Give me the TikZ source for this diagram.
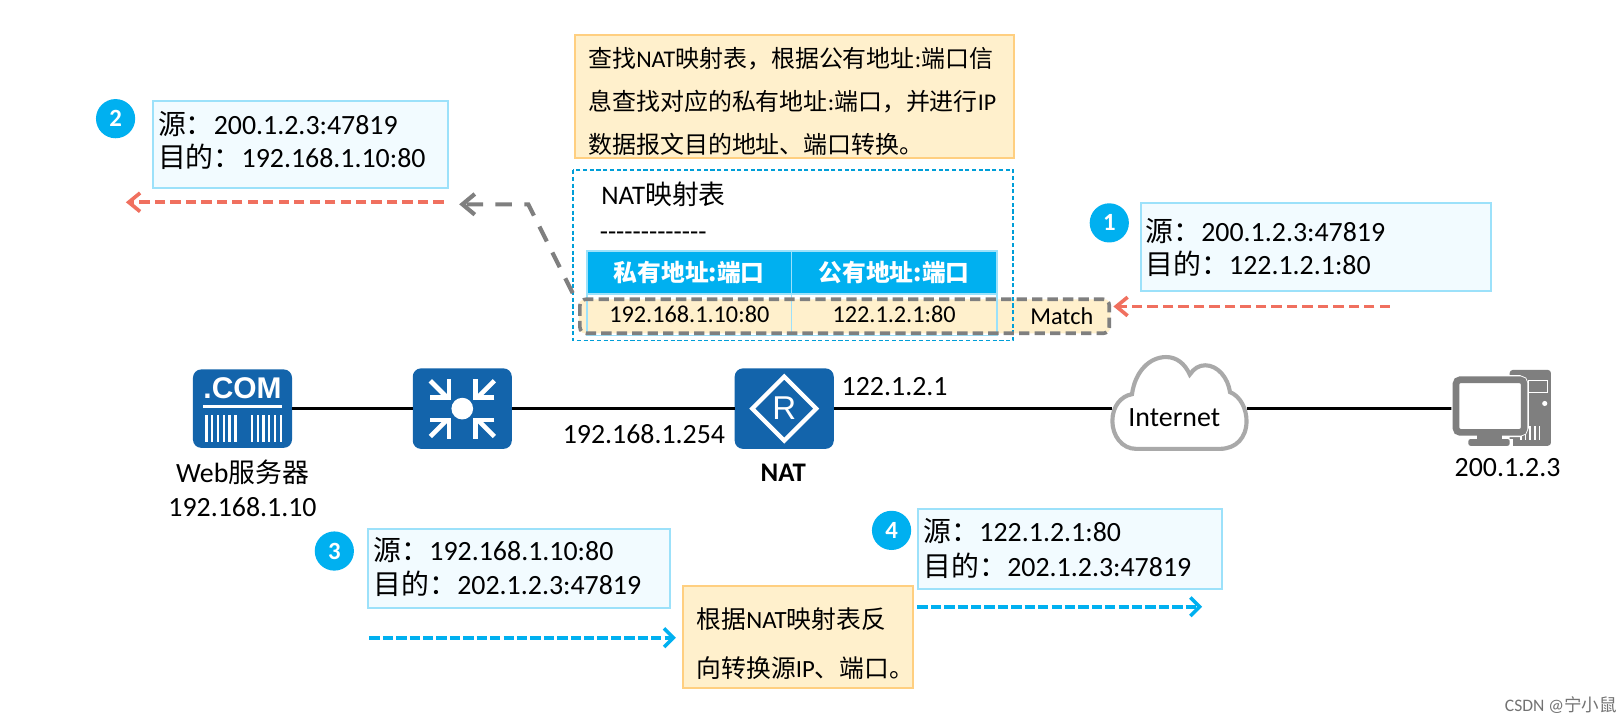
\documentclass[tikz,border=0pt]{standalone}
\usepackage{fontspec}
\setmainfont{Carlito}
\newfontfamily\cjk{Noto Sans CJK SC}
\newfontfamily\helv{Liberation Sans}
\usetikzlibrary{arrows.meta,calc}
\definecolor{infofill}{HTML}{F2FBFF}
\definecolor{infoline}{HTML}{9CE1FA}
\definecolor{notefill}{HTML}{FFF0CC}
\definecolor{noteline}{HTML}{FFCF80}
\definecolor{cyanb}{HTML}{00B0F0}
\definecolor{iconblue}{HTML}{1364AB}
\definecolor{redarrow}{HTML}{F0705F}
\definecolor{grayline}{HTML}{7F7F7F}
\definecolor{cloudline}{HTML}{A9A9A9}
\newcommand{\pxfont}[1]{\fontsize{#1}{#1}\selectfont}
\newcommand{\addr}[2]{{\cjk #1}#2}
\tikzset{
  x=1pt,y=-1pt,
  infobox/.style={draw=infoline,fill=infofill,line width=2pt,inner sep=0pt},
  notebox/.style={draw=noteline,fill=notefill,line width=2pt,inner sep=0pt},
  badge/.style={circle,fill=cyanb,text=white,minimum size=38pt,inner sep=0pt,font=\pxfont{24}\bfseries},
  txt/.style={inner sep=0pt,anchor=west,text=black,font=\pxfont{27}},
  ctr/.style={inner sep=0pt,anchor=center,text=black,font=\pxfont{27}},
  notetxt/.style={inner sep=0pt,anchor=west,text=black,font=\pxfont{23.2}},
  botnotetxt/.style={inner sep=0pt,anchor=west,text=black,font=\pxfont{24}},
  icon/.style={fill=iconblue,rounded corners=8pt,inner sep=0pt},
  flowred/.style={draw=redarrow,line width=3.5pt,dash pattern=on 10pt off 5pt,-{Straight Barb[length=11pt,width=18pt,line width=3.5pt]}},
  flowblue/.style={draw=cyanb,line width=3.5pt,dash pattern=on 10pt off 3pt,-{Straight Barb[length=9pt,width=18pt,line width=3.5pt]}},
  flowgray/.style={draw=grayline,line width=4pt,dash pattern=on 16pt off 12pt,-{Straight Barb[length=12pt,width=20pt,line width=4pt]}},
  link/.style={draw=black,line width=3pt},
  cellhead/.style={fill=cyanb,draw=infoline,line width=1.5pt,inner sep=0pt,minimum height=42pt,text=white,font=\pxfont{23}\cjk\bfseries},
  cellrow/.style={draw=infoline,line width=1.5pt,inner sep=0pt,minimum height=40pt,text=black,font=\pxfont{23.5}},
}
\begin{document}
\begin{tikzpicture}
\useasboundingbox (0,0) rectangle (1568,698.7);
\fill[white] (0,0) rectangle (1568,698.7);

% icons on the network line
\node[icon,minimum width=96pt,minimum height=76pt] (server) at (235,396) {};
\node[icon,minimum width=96pt,minimum height=78pt] (switch) at (448,396) {};
\node[icon,minimum width=96pt,minimum height=78pt] (router) at (760,396) {};
\coordinate (cloudw) at (1078,396);
\coordinate (cloude) at (1208,396);
\coordinate (pcw) at (1408,396);
\draw[link] (server) -- (switch);
\draw[link] (switch) -- (router);
\draw[link] (router) -- (cloudw);
\draw[link] (cloude) -- (pcw);

% server glyph
\node[inner sep=0pt,text=white,font=\helv\pxfont{29}\bfseries] (comlabel) at (235,376) {.COM};
\fill[white] (197,392) rectangle (273,395);
\foreach \i in {0,...,5}{
  \fill[white] ({199+\i*5.6},402) rectangle ++(2.2,26);
  \fill[white] ({243+\i*5.6},402) rectangle ++(2.2,26);
}
% switch glyph
\fill[white] (448,396) circle (10.5);
\foreach \sx/\sy in {-1/-1,1/-1,-1/1,1/1}{
  \draw[white,line width=4.5pt] ({448+\sx*31},{396+\sy*27}) -- ({448+\sx*16},{396+\sy*12});
  \draw[white,line width=4.5pt,miter limit=10] ({448+\sx*31},{396+\sy*11}) -- ({448+\sx*13},{396+\sy*11}) -- ({448+\sx*13},{396+\sy*29});
}
% router glyph
\draw[white,line width=4pt] (760,365) -- (791,396) -- (760,427) -- (729,396) -- cycle;
\node[inner sep=0pt,text=white,font=\helv\pxfont{32}] (rlabel) at (760,396) {R};

% cloud
\draw[cloudline,fill=white,line width=4pt]
 (1101,435) .. controls (1087,435) and (1078,422) .. (1078,408)
 .. controls (1078,394) and (1086,384) .. (1097,382)
 .. controls (1100,360) and (1114,346) .. (1130,346)
 .. controls (1140,346) and (1148,352) .. (1153,363)
 .. controls (1157,357) and (1162,354) .. (1168,354)
 .. controls (1180,354) and (1190,366) .. (1192,380)
 .. controls (1202,384) and (1208,396) .. (1208,408)
 .. controls (1208,424) and (1198,435) .. (1182,435) -- cycle;
\node[ctr] (inet) at (1138,405) {Internet};

% PC
\fill[grayline,rounded corners=3pt] (1463,358.5) rectangle (1503,432);
\draw[white,line width=1.2pt] (1481,369) rectangle (1500,380);
\fill[white] (1497,391) circle (2.5);
\foreach \i in {0,...,4}{\fill[white] ({1473+\i*4.5},413) rectangle ++(1.6,13);}
\draw[white,line width=9pt,rounded corners=5pt] (1411,368) rectangle (1477,419);
\draw[grayline,fill=white,line width=6.5pt,rounded corners=4pt] (1411,368) rectangle (1477,419);
\fill[white] (1420,425) rectangle (1466,433.5);
\fill[grayline] (1431,422) rectangle (1456,426);
\fill[grayline,rounded corners=2pt] (1423,425.5) rectangle (1463,432);

% network labels
\node[ctr] (webname) at (235,458) {Web{\cjk\pxfont{26}服务器}};
\node[ctr] (webip) at (235,491) {192.168.1.10};
\node[ctr] (lanip) at (624,421) {192.168.1.254};
\node[ctr] (wanip) at (867,375) {122.1.2.1};
\node[ctr,font=\pxfont{26}\bfseries] (natname) at (759,458) {NAT};
\node[ctr] (pcip) at (1461,453) {200.1.2.3};

% top note
\node[notebox,anchor=north west,minimum width=426pt,minimum height=119pt] (topnote) at (556,33) {};
\node[notetxt] (n1) at (570,57) {{\cjk 查找}NAT{\cjk 映射表，根据公有地址}:{\cjk 端口信}};
\node[notetxt] (n2) at (570,98) {{\cjk 息查找对应的私有地址}:{\cjk 端口，并进行}IP};
\node[notetxt] (n3) at (570,140) {\cjk 数据报文目的地址、端口转换。};

% match highlight
\fill[notefill,rounded corners=6pt] (561,290) rectangle (1076,323);
% table
\draw[cyanb!90!black,line width=1.8pt,dash pattern=on 4pt off 2.5pt] (555,165) rectangle (982,330);
\node[ctr,font=\pxfont{26}] (tbltitle) at (643,188) {NAT{\cjk 映射表}};
\node[ctr,font=\pxfont{26}] (tbldash) at (633,229) {-{}-{}-{}-{}-{}-{}-{}-{}-{}-{}-{}-{}-};
\node[cellhead,minimum width=198pt] (h1) at (668,264) {私有地址:端口};
\node[cellhead,minimum width=199pt] (h2) at (866.5,264) {公有地址:端口};
\node[cellrow,minimum width=198pt] (c1) at (668,305) {192.168.1.10:80};
\node[cellrow,minimum width=199pt] (c2) at (866.5,305) {122.1.2.1:80};
\node[ctr,font=\pxfont{23.5}] (matchtxt) at (1029,306) {Match};
\draw[grayline,line width=3.5pt,dash pattern=on 10pt off 5pt,rounded corners=6pt] (562,290) rectangle (1075,323);

% flow arrows
\coordinate (g0) at (555,284);
\coordinate (g1) at (512,198);
\coordinate (g2) at (445,198);
\draw[flowgray] (g0) -- (g1) -- (g2);
\coordinate (r1a) at (1347,297); \coordinate (r1b) at (1079,297);
\draw[flowred] (r1a) -- (r1b);
\coordinate (r2a) at (430,196); \coordinate (r2b) at (122,196);
\draw[flowred] (r2a) -- (r2b);
\coordinate (b3a) at (358,618); \coordinate (b3b) at (655,618);
\draw[flowblue] (b3a) -- (b3b);
\coordinate (b4a) at (889,588); \coordinate (b4b) at (1165,588);
\draw[flowblue] (b4a) -- (b4b);

% info boxes
\node[infobox,anchor=north west,minimum width=339pt,minimum height=85pt] (box1) at (1105,196) {};
\node[txt] (b1a) at (1110,224) {\addr{源：}{200.1.2.3:47819}};
\node[txt] (b1b) at (1110,256) {\addr{目的：}{122.1.2.1:80}};
\node[badge] (c1badge) at (1075,216) {1};

\node[infobox,anchor=north west,minimum width=286pt,minimum height=84pt] (box2) at (147,97) {};
\node[txt] (b2a) at (153,120) {\addr{源：}{200.1.2.3:47819}};
\node[txt] (b2b) at (153,152) {\addr{目的：}{192.168.1.10:80}};
\node[badge] (c2badge) at (112,115) {2};

\node[infobox,anchor=north west,minimum width=292pt,minimum height=76pt] (box3) at (356,512) {};
\node[txt] (b3a) at (362,533) {\addr{源：}{192.168.1.10:80}};
\node[txt] (b3b) at (362,566) {\addr{目的：}{202.1.2.3:47819}};
\node[badge] (c3badge) at (324,534) {3};

\node[infobox,anchor=north west,minimum width=294pt,minimum height=78pt] (box4) at (889,492) {};
\node[txt] (b4a) at (895,515) {\addr{源：}{122.1.2.1:80}};
\node[txt] (b4b) at (895,548) {\addr{目的：}{202.1.2.3:47819}};
\node[badge] (c4badge) at (864,514) {4};

% bottom note
\node[notebox,anchor=north west,minimum width=223pt,minimum height=99pt] (botnote) at (661,567) {};
\node[botnotetxt] (m1) at (675,600) {{\cjk 根据}NAT{\cjk 映射表反}};
\node[botnotetxt] (m2) at (675,647) {{\cjk 向转换源}IP{\cjk 、端口。}};

% watermark
\node[inner sep=0pt,anchor=east,text=black!55,font=\pxfont{17}] (wm) at (1567,683) {CSDN @{\cjk 宁小鼠}};
\end{tikzpicture}
\end{document}
